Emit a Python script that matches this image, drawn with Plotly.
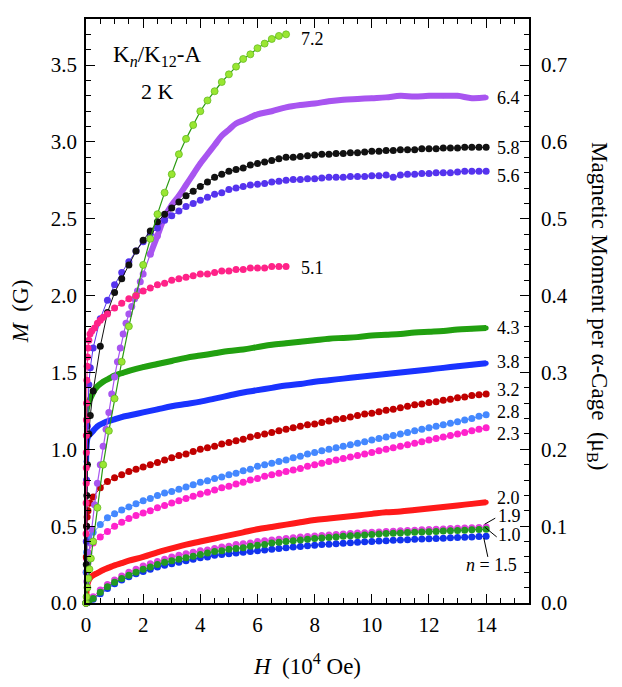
import plotly.graph_objects as go

# ---------------- data (H in 1e4 Oe, M in G) ----------------
H_GRID = [0.25, 0.5, 0.75, 1.0, 1.25, 1.5, 1.75, 2.0, 2.25, 2.5, 2.75, 3.0, 3.25, 3.5, 3.75, 4.0,
          4.25, 4.5, 4.75, 5.0, 5.25, 5.5, 5.75, 6.0, 6.25, 6.5, 6.75, 7.0, 7.25, 7.5, 7.75, 8.0,
          8.25, 8.5, 8.75, 9.0, 9.25, 9.5, 9.75, 10.0, 10.25, 10.5, 10.75, 11.0, 11.25, 11.5, 11.75, 12.0,
          12.25, 12.5, 12.75, 13.0, 13.25, 13.5, 13.75, 14.0]

H_DENSE = [0.005, 0.02, 0.05, 0.1, 0.15, 0.25, 0.4, 0.6, 0.8, 1.0, 1.25, 1.5,
           2.0, 2.5, 3.0, 3.5, 4.0, 4.5, 5.0, 5.5, 6.0, 6.5, 7.0, 7.5, 8.0, 8.5, 9.0, 9.5,
           10.0, 10.5, 11.0, 11.5, 12.0, 12.5, 13.0, 13.5, 14.0]

# n = 7.2
H72 = [0, 0.02, 0.05, 0.08, 0.12, 0.17, 0.25, 0.4, 0.6, 0.8, 1.0, 1.25, 1.5, 1.75, 2.0, 2.25, 2.5,
       2.75, 3.0, 3.25, 3.5, 3.75, 4.0, 4.25, 4.5, 4.75, 5.0, 5.25, 5.5, 5.75, 6.0, 6.25, 6.5, 6.75, 7.0]
M72 = [0, 0.04, 0.1, 0.16, 0.22, 0.29, 0.4, 0.62, 0.9, 1.12, 1.33, 1.57, 1.80, 2.0, 2.2, 2.37, 2.53,
       2.67, 2.79, 2.92, 3.02, 3.11, 3.20, 3.27, 3.33, 3.39, 3.44, 3.49, 3.54, 3.57, 3.61, 3.64, 3.67, 3.69, 3.70]

# n = 6.4
H64 = [0, 0.03, 0.07, 0.1, 0.14, 0.2, 0.3, 0.4, 0.5, 0.6, 0.7, 0.8, 0.9, 1.0, 1.1, 1.2, 1.3, 1.4, 1.5,
       1.6, 1.7, 1.8, 1.9, 2.0, 2.25, 2.5, 2.75, 3.0, 3.25, 3.5, 3.75, 4.0, 4.25, 4.5, 4.75, 5.0, 5.25,
       5.5, 5.75, 6.0, 6.5, 7.0, 7.5, 8.0, 8.5, 9.0, 9.5, 10.0, 10.5, 11.0, 11.5, 12.0, 12.5, 13.0, 13.5, 14.0]
M64 = [0, 0.14, 0.26, 0.32, 0.39, 0.48, 0.64, 0.78, 0.9, 1.02, 1.13, 1.24, 1.36, 1.47, 1.57, 1.66, 1.75,
       1.82, 1.88, 1.93, 1.98, 2.03, 2.09, 2.14, 2.27, 2.39, 2.51, 2.59, 2.65, 2.72, 2.79, 2.86, 2.92, 2.98,
       3.04, 3.08, 3.12, 3.14, 3.16, 3.18, 3.20, 3.225, 3.24, 3.25, 3.265, 3.275, 3.28, 3.285, 3.29, 3.30,
       3.295, 3.30, 3.30, 3.30, 3.285, 3.29]

# n = 5.8
H58_LOW = [0, 0.01, 0.02, 0.03, 0.05, 0.1, 0.15]
M58_LOW = [0, 0.25, 0.5, 0.7, 0.9, 1.1, 1.22]
M58 = [1.38, 1.67, 1.89, 2.02, 2.11, 2.20, 2.29, 2.36, 2.42, 2.48, 2.53, 2.57, 2.61, 2.65, 2.68, 2.71,
       2.74, 2.77, 2.79, 2.81, 2.82, 2.83, 2.85, 2.86, 2.87, 2.88, 2.89, 2.90, 2.90, 2.905, 2.91, 2.915,
       2.92, 2.92, 2.925, 2.925, 2.93, 2.93, 2.935, 2.94, 2.94, 2.945, 2.945, 2.95, 2.95, 2.95, 2.955, 2.955,
       2.955, 2.96, 2.96, 2.96, 2.965, 2.965, 2.965, 2.965]

# n = 5.6
H56_LOW = [0, 0.01, 0.02, 0.05, 0.1, 0.15]
M56_LOW = [0, 0.4, 0.8, 1.15, 1.42, 1.53]
M56 = [1.66, 1.85, 1.97, 2.07, 2.15, 2.22, 2.29, 2.35, 2.40, 2.44, 2.49, 2.52, 2.55, 2.58, 2.60, 2.62,
       2.64, 2.66, 2.67, 2.69, 2.70, 2.71, 2.72, 2.725, 2.73, 2.74, 2.745, 2.75, 2.755, 2.755, 2.76, 2.76,
       2.765, 2.77, 2.77, 2.77, 2.775, 2.775, 2.775, 2.78, 2.78, 2.785, 2.77, 2.785, 2.79, 2.79, 2.795, 2.795,
       2.80, 2.80, 2.80, 2.805, 2.81, 2.81, 2.81, 2.81]

# n = 5.1
H51 = [0.003, 0.005, 0.007, 0.009, 0.011, 0.013, 0.016, 0.02, 0.03, 0.04, 0.05, 0.07, 0.1, 0.14, 0.2,
       0.3, 0.4, 0.5, 0.6, 0.75, 1.0, 1.25, 1.5, 1.75, 2.0, 2.25, 2.5, 2.75, 3.0, 3.25, 3.5, 3.75, 4.0,
       4.25, 4.5, 4.75, 5.0, 5.25, 5.5, 5.75, 6.0, 6.25, 6.5, 6.75, 7.0]
M51 = [0.45, 0.65, 0.78, 0.88, 0.98, 1.09, 1.19, 1.3, 1.45, 1.54, 1.6, 1.66, 1.71, 1.75, 1.77,
       1.79, 1.82, 1.84, 1.86, 1.88, 1.92, 1.95, 1.98, 2.00, 2.03, 2.05, 2.07, 2.08, 2.10, 2.11, 2.12, 2.13,
       2.14, 2.14, 2.15, 2.16, 2.16, 2.17, 2.17, 2.18, 2.18, 2.18, 2.19, 2.19, 2.19]

# n = 4.3, 3.8, 2.0 (dense measurements)
M43 = [1.2, 1.25, 1.28, 1.31, 1.33, 1.37, 1.41, 1.44, 1.46, 1.48, 1.495, 1.51,
       1.535, 1.555, 1.575, 1.595, 1.61, 1.625, 1.64, 1.65, 1.665, 1.68, 1.69, 1.70, 1.71, 1.72, 1.725,
       1.73, 1.74, 1.745, 1.75, 1.76, 1.765, 1.77, 1.78, 1.785, 1.79]
M38 = [0.92, 1.02, 1.07, 1.09, 1.10, 1.12, 1.15, 1.17, 1.185, 1.195, 1.21, 1.22,
       1.24, 1.26, 1.28, 1.295, 1.31, 1.33, 1.35, 1.37, 1.385, 1.40, 1.415, 1.425, 1.44, 1.45, 1.46,
       1.47, 1.48, 1.49, 1.50, 1.51, 1.52, 1.53, 1.54, 1.55, 1.56]
M20 = [0.03, 0.08, 0.12, 0.15, 0.165, 0.18, 0.195, 0.215, 0.23, 0.245, 0.26, 0.275,
       0.30, 0.33, 0.355, 0.38, 0.40, 0.42, 0.44, 0.46, 0.48, 0.495, 0.51, 0.525, 0.54, 0.55, 0.56,
       0.57, 0.58, 0.59, 0.595, 0.605, 0.615, 0.625, 0.635, 0.645, 0.655]

# n = 3.2
H32_LOW = [0, 0.01, 0.02, 0.04, 0.07, 0.14]
M32_LOW = [0, 0.3, 0.5, 0.56, 0.6, 0.65]
M32 = [0.69, 0.75, 0.79, 0.815, 0.835, 0.855, 0.87, 0.885, 0.90, 0.915, 0.93, 0.945, 0.96, 0.97, 0.985, 1.0,
       1.01, 1.02, 1.035, 1.045, 1.055, 1.065, 1.08, 1.09, 1.10, 1.11, 1.12, 1.13, 1.14, 1.15, 1.16, 1.165,
       1.175, 1.185, 1.195, 1.20, 1.21, 1.22, 1.23, 1.235, 1.245, 1.255, 1.26, 1.27, 1.28, 1.29, 1.295, 1.305,
       1.31, 1.32, 1.325, 1.335, 1.34, 1.35, 1.355, 1.36]

# n = 2.8
H28_LOW = [0, 0.01, 0.02, 0.04, 0.1]
M28_LOW = [0, 0.2, 0.33, 0.4, 0.43]
M28 = [0.46, 0.51, 0.555, 0.58, 0.605, 0.625, 0.645, 0.665, 0.68, 0.70, 0.715, 0.725, 0.74, 0.755, 0.77, 0.785,
       0.795, 0.81, 0.82, 0.835, 0.845, 0.86, 0.87, 0.89, 0.90, 0.91, 0.92, 0.93, 0.945, 0.955, 0.97, 0.98,
       0.99, 1.0, 1.01, 1.02, 1.03, 1.04, 1.05, 1.06, 1.07, 1.08, 1.09, 1.10, 1.11, 1.12, 1.13, 1.14,
       1.15, 1.16, 1.17, 1.18, 1.19, 1.20, 1.215, 1.225]

# n = 2.3
H23_LOW = [0.005, 0.02, 0.07]
M23_LOW = [0.2, 0.29, 0.33]
M23 = [0.39, 0.43, 0.465, 0.50, 0.525, 0.55, 0.57, 0.585, 0.60, 0.62, 0.635, 0.65, 0.665, 0.68, 0.695, 0.71,
       0.72, 0.735, 0.75, 0.76, 0.775, 0.785, 0.80, 0.81, 0.825, 0.835, 0.845, 0.855, 0.865, 0.875, 0.89, 0.90,
       0.91, 0.92, 0.93, 0.94, 0.95, 0.96, 0.97, 0.98, 0.99, 1.00, 1.01, 1.02, 1.03, 1.04, 1.05, 1.06,
       1.07, 1.08, 1.09, 1.10, 1.11, 1.12, 1.13, 1.14]

# n = 1.9, 1.0, 1.5
H_SMALL_LOW = [0, 0.05, 0.1]
M19_LOW = [0, 0.005, 0.012]
M19 = [0.04, 0.085, 0.12, 0.15, 0.175, 0.20, 0.22, 0.24, 0.255, 0.27, 0.285, 0.30, 0.31, 0.32, 0.33, 0.34,
       0.345, 0.355, 0.365, 0.37, 0.38, 0.385, 0.39, 0.40, 0.405, 0.41, 0.415, 0.42, 0.425, 0.43, 0.433, 0.436,
       0.44, 0.443, 0.446, 0.449, 0.452, 0.455, 0.457, 0.46, 0.462, 0.465, 0.467, 0.47, 0.472, 0.474, 0.476, 0.478,
       0.48, 0.482, 0.484, 0.486, 0.488, 0.49, 0.492, 0.494]
M10_LOW = [0, 0.004, 0.01]
M10 = [0.03, 0.07, 0.105, 0.135, 0.16, 0.18, 0.20, 0.22, 0.235, 0.25, 0.265, 0.275, 0.285, 0.295, 0.305, 0.315,
       0.325, 0.335, 0.34, 0.35, 0.355, 0.36, 0.37, 0.375, 0.38, 0.39, 0.395, 0.40, 0.405, 0.41, 0.415, 0.42,
       0.423, 0.427, 0.43, 0.434, 0.437, 0.44, 0.443, 0.446, 0.449, 0.452, 0.454, 0.456, 0.458, 0.46, 0.462, 0.464,
       0.466, 0.468, 0.47, 0.472, 0.474, 0.476, 0.478, 0.48]
M15_LOW = [0, 0.003, 0.008]
M15 = [0.025, 0.06, 0.095, 0.125, 0.15, 0.17, 0.19, 0.205, 0.22, 0.235, 0.245, 0.255, 0.265, 0.275, 0.285, 0.295,
       0.30, 0.31, 0.315, 0.32, 0.325, 0.33, 0.335, 0.34, 0.345, 0.35, 0.355, 0.36, 0.364, 0.368, 0.372, 0.376,
       0.38, 0.383, 0.386, 0.389, 0.392, 0.395, 0.398, 0.40, 0.403, 0.405, 0.408, 0.41, 0.412, 0.414, 0.416, 0.418,
       0.42, 0.422, 0.424, 0.426, 0.428, 0.43, 0.432, 0.434]

# labels
SERIES_LABELS = ["7.2", "6.4", "5.8", "5.6", "5.1", "4.3", "3.8", "3.2", "2.8", "2.3", "2.0", "1.9", "1.0"]
LABEL_H = [7.45, 14.3, 14.3, 14.3, 7.45, 14.3, 14.3, 14.3, 14.3, 14.3, 14.3, 14.35, 14.35]
LABEL_M = [3.67, 3.285, 2.96, 2.78, 2.18, 1.79, 1.57, 1.385, 1.245, 1.10, 0.685, 0.565, 0.445]

Y_RANGE = [0, 3.8]
Y2_RANGE = [0, 0.76]
X_RANGE = [0, 15.5]

FONT = "Liberation Serif"

fig = go.Figure()


def sparse(x, y, color, size=7, lw=1.0, lcolor=None, outline=None):
    fig.add_trace(go.Scatter(
        x=x, y=y, mode="lines+markers", cliponaxis=False, showlegend=False, hoverinfo="skip",
        line=dict(color=lcolor or color, width=lw),
        marker=dict(color=color, size=size,
                    line=dict(width=0.8 if outline else 0, color=outline or color))))


def dense(x, y, color, width=6):
    fig.add_trace(go.Scatter(
        x=x, y=y, mode="lines+markers", cliponaxis=False, showlegend=False, hoverinfo="skip",
        line=dict(color=color, width=width, shape="spline"),
        marker=dict(color=color, size=5)))


sparse(H_SMALL_LOW + H_GRID, M15_LOW + M15, "#1133ee")
sparse(H_SMALL_LOW + H_GRID, M19_LOW + M19, "#e040e0")
sparse(H_SMALL_LOW + H_GRID, M10_LOW + M10, "#229922")
dense([0.0] + H_DENSE, [0.0] + M20, "#ff1a1a")
sparse(H23_LOW + H_GRID, M23_LOW + M23, "#ff22cc")
sparse(H28_LOW + H_GRID, M28_LOW + M28, "#4488ff")
sparse(H32_LOW + H_GRID, M32_LOW + M32, "#c00000")
dense(H_DENSE, M38, "#1a33ff")
dense(H_DENSE, M43, "#22a010")
# n = 6.4: distinct points at low field, dense band at high field
sparse(H64[:26], M64[:26], "#a855f0", size=7, lw=1.2)
dense(H64[24:], M64[24:], "#a855f0", width=6)
sparse(H56_LOW + H_GRID, M56_LOW + M56, "#5533ee")
sparse(H58_LOW + H_GRID, M58_LOW + M58, "#111111")
sparse(H72, M72, "#99e632", size=7, lw=1.2, lcolor="#2a9a10", outline="#66bb22")
sparse(H51, M51, "#ff2288")

# invisible trace that carries the right-hand axis
fig.add_trace(go.Scatter(x=[0], y=[0], yaxis="y2", mode="markers", marker=dict(opacity=0),
                         showlegend=False, hoverinfo="skip"))

LABEL_FONT = dict(family=FONT, size=18, color="black")
TITLE_FONT = dict(family=FONT, size=23, color="black")
annotations = []
for t, hx, my in zip(SERIES_LABELS, LABEL_H, LABEL_M):
    annotations.append(dict(x=hx, y=my, xref="x", yref="y", text=t, showarrow=False,
                            xanchor="left", yanchor="middle", font=LABEL_FONT))
annotations += [
    dict(x=15.15, y=0.247, xref="x", yref="y", text="<i>n</i> = 1.5", showarrow=False, xanchor="right",
         yanchor="middle", font=LABEL_FONT),
    dict(x=2.5, y=3.56, xref="x", yref="y", text="K<sub><i>n</i></sub>/K<sub>12</sub>-A", showarrow=False,
         xanchor="center", yanchor="middle", font=dict(family=FONT, size=23, color="black")),
    dict(x=2.5, y=3.33, xref="x", yref="y", text="2 K", showarrow=False,
         xanchor="center", yanchor="middle", font=dict(family=FONT, size=22, color="black")),
    dict(x=(598 - 86) / (529 - 86), y=(603 - 306) / (603 - 19), xref="paper", yref="paper",
         text="Magnetic Moment per α-Cage  (μ<sub>B</sub>)",
         showarrow=False, textangle=90, xanchor="center", yanchor="middle", font=TITLE_FONT),
]

shapes = [
    dict(type="line", xref="x", yref="y", x0=13.95, y0=0.513, x1=14.32, y1=0.552, line=dict(color="black", width=1)),
    dict(type="line", xref="x", yref="y", x0=13.95, y0=0.494, x1=14.37, y1=0.43, line=dict(color="black", width=1)),
    dict(type="line", xref="x", yref="y", x0=13.92, y0=0.422, x1=14.06, y1=0.30, line=dict(color="black", width=1)),
]

axis_common = dict(showgrid=False, zeroline=False, showline=True, linecolor="black", linewidth=1.5,
                   ticks="inside", ticklen=9, tickwidth=1.2, tickcolor="black", automargin=False,
                   tickfont=dict(family=FONT, size=21, color="black"))

# the page body adds an 8 px offset, so the figure is sized to fit inside the 622x687 window
fig.update_layout(
    width=614, height=679,
    margin=dict(l=78, r=93, t=11, b=84),
    paper_bgcolor="white", plot_bgcolor="white",
    showlegend=False,
    annotations=annotations,
    shapes=shapes,
    xaxis=dict(range=X_RANGE, dtick=2, tick0=0, mirror="ticks", ticklabelstandoff=2, **axis_common,
               minor=dict(dtick=0.5, ticklen=5, tickwidth=1.0, tickcolor="black", ticks="inside", showgrid=False),
               title=dict(text="<i>H</i>  (10<sup>4</sup> Oe)", font=TITLE_FONT, standoff=22)),
    yaxis=dict(range=Y_RANGE, dtick=0.5, tick0=0, tickformat=".1f", ticklabelstandoff=3, **axis_common,
               minor=dict(dtick=0.1, ticklen=5, tickwidth=1.0, tickcolor="black", ticks="inside", showgrid=False),
               title=dict(text="<i>M</i>  (G)", font=TITLE_FONT, standoff=20)),
    yaxis2=dict(range=Y2_RANGE, dtick=0.1, tick0=0, tickformat=".1f", overlaying="y", side="right",
                ticklabelstandoff=6, **axis_common,
                minor=dict(dtick=0.02, ticklen=5, tickwidth=1.0, tickcolor="black", ticks="inside", showgrid=False)),
)

fig.write_html("out.html")
